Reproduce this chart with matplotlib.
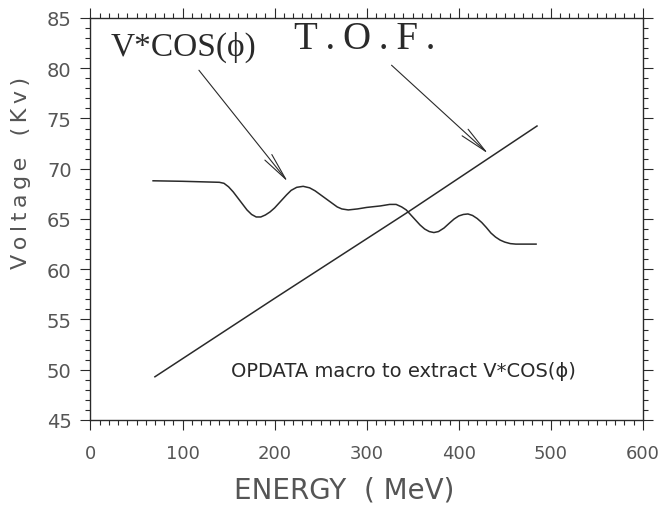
import matplotlib.pyplot as plt
from matplotlib.ticker import MultipleLocator

# T.O.F. voltage vs energy (straight ramp)
tof_energy = [70, 200, 345, 485]
tof_volt = [49.3, 57.1, 65.7, 74.25]

# V*COS(phi) extracted with the OPDATA macro
vcos_energy = [68, 100, 140, 145, 150, 155, 160, 165, 170, 175, 180, 185, 190,
               195, 200, 206, 213, 218, 224, 231, 238, 244, 250, 256, 262, 268,
               273, 280, 290, 300, 315, 325, 332, 338, 343, 348, 353, 358, 363,
               368, 373, 378, 384, 390, 395, 400, 405, 410, 415, 420, 425, 430,
               435, 440, 445, 450, 456, 462, 470, 484]
vcos_volt = [68.8, 68.75, 68.65, 68.55, 68.2, 67.7, 67.1, 66.5, 65.9, 65.45,
             65.2, 65.2, 65.4, 65.7, 66.1, 66.7, 67.4, 67.85, 68.15, 68.25,
             68.1, 67.8, 67.4, 67.0, 66.6, 66.2, 66.0, 65.9, 66.0, 66.15, 66.3,
             66.45, 66.45, 66.2, 65.9, 65.4, 64.9, 64.4, 64.0, 63.75, 63.65,
             63.75, 64.1, 64.6, 65.0, 65.3, 65.45, 65.5, 65.35, 65.05, 64.65,
             64.15, 63.6, 63.2, 62.9, 62.7, 62.55, 62.5, 62.5, 62.5]

ink = "#2a2a2a"
grey = "#555555"
serif = ["Liberation Serif", "DejaVu Serif"]

fig = plt.figure(figsize=(6.58, 5.06), dpi=100)
ax = fig.add_axes([0.1375, 0.168, 0.8395, 0.7945])

ax.plot(tof_energy, tof_volt, color=ink, lw=1.1)
ax.plot(vcos_energy, vcos_volt, color=ink, lw=1.1, solid_joinstyle="round")

ax.set_xlim(0, 600)
ax.set_ylim(45, 85)
ax.xaxis.set_major_locator(MultipleLocator(100))
ax.xaxis.set_minor_locator(MultipleLocator(10))
ax.yaxis.set_major_locator(MultipleLocator(5))
ax.yaxis.set_minor_locator(MultipleLocator(1))

for s in ax.spines.values():
    s.set_color(ink)
    s.set_linewidth(1.0)

ax.tick_params(which="both", direction="out", top=True, right=True,
               color=ink, width=0.8)
ax.tick_params(which="major", length=7.5, labelsize=14, labelcolor=grey, pad=6)
ax.tick_params(which="minor", length=3.5)
ax.tick_params(axis="x", which="major", labelsize=13, pad=10)
ax.tick_params(labeltop=False, labelright=False)


def spaced(s, sep="\u2009"):
    # plotter-style letter spacing
    return sep.join(s)


ax.set_xlabel("ENERGY  ( MeV)", fontsize=20, color=grey)
ax.xaxis.label.set_va("center")
ax.xaxis.set_label_coords(0.46, -0.172)
ax.set_ylabel(spaced("Voltage") + "   " + spaced("(Kv)"), fontsize=16,
              color=grey)
ax.yaxis.label.set_va("center")
ax.yaxis.set_label_coords(-0.125, 0.616)

ax.text(101.5, 82.2, "V*COS(\u03d5)", fontsize=24, family=serif,
        color=ink, ha="center", va="center")
ax.text(298, 83.0, spaced("T.O.F."), fontsize=28, family=serif,
        color=ink, ha="center", va="center")
ax.text(153, 49.9, "OPDATA macro to extract V*COS(\u03d5)", fontsize=14,
        color=ink, ha="left", va="center")

arrow = dict(arrowstyle="->,head_length=1.0,head_width=0.16",
             mutation_scale=20, lw=0.8, color=ink, shrinkA=0, shrinkB=0)
ax.annotate("", xy=(214.4, 68.7), xytext=(117.8, 79.8), arrowprops=arrow)
ax.annotate("", xy=(432, 71.5), xytext=(327, 80.3), arrowprops=arrow)

fig.savefig("out.png", dpi=100)
